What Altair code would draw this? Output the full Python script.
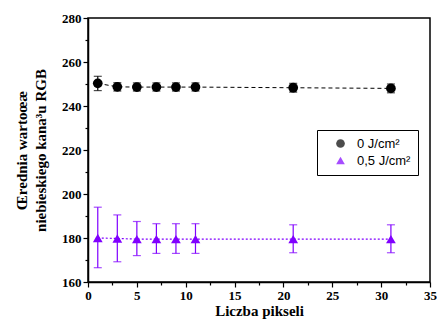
import altair as alt
import pandas as pd

x_vals = [1, 3, 5, 7, 9, 11, 21, 31]
black_y = [250.3, 248.7, 248.6, 248.6, 248.6, 248.6, 248.3, 248.0]
black_lo = [247.0, 246.8, 246.8, 246.8, 246.8, 246.8, 246.3, 246.0]
black_hi = [253.5, 250.6, 250.5, 250.5, 250.5, 250.5, 250.3, 250.0]
purple_y = [180.0, 179.8, 179.5, 179.5, 179.5, 179.5, 179.5, 179.5]
purple_lo = [166.5, 169.2, 172.0, 173.0, 173.0, 173.0, 173.3, 173.3]
purple_hi = [194.0, 190.5, 187.5, 186.5, 186.5, 186.5, 186.0, 186.0]
series = ["0 J/cm²", "0,5 J/cm²"]
colors = ["#000000", "#8000ff"]
shapes = ["circle", "triangle-up"]
x_ticks = [0, 2.5, 5, 7.5, 10, 12.5, 15, 17.5, 20, 22.5, 25, 27.5, 30, 32.5, 35]
y_ticks = [160, 170, 180, 190, 200, 210, 220, 230, 240, 250, 260, 270, 280]

rows = []
for s, c, ys, lo, hi in [(series[0], colors[0], black_y, black_lo, black_hi),
                         (series[1], colors[1], purple_y, purple_lo, purple_hi)]:
    for xv, yv, l, h in zip(x_vals, ys, lo, hi):
        rows.append({"x": xv, "y": yv, "lo": l, "hi": h, "s": s, "col": c})
df = pd.DataFrame(rows)

FONT = "Liberation Serif"
xscale = alt.Scale(domain=[0, 35], nice=False)
yscale = alt.Scale(domain=[160, 280], nice=False, zero=False)

xaxis = alt.Axis(values=x_ticks, title="Liczba pikseli",
                 labelExpr="datum.value % 5 === 0 ? datum.label : ''",
                 tickSize={"condition": {"test": "datum.value % 5 === 0", "value": 5}, "value": 3},
                 titlePadding=1)
yaxis = alt.Axis(values=y_ticks, title=["Œrednia wartoœæ", "niebieskiego kana³u RGB"],
                 labelExpr="datum.value % 20 === 0 ? datum.label : ''",
                 tickSize={"condition": {"test": "datum.value % 20 === 0", "value": 5}, "value": 3},
                 titleLineHeight=19, titlePadding=13)

base = alt.Chart(df)
X = alt.X("x:Q", scale=xscale, axis=xaxis)
Y = alt.Y("y:Q", scale=yscale, axis=yaxis)
C_raw = alt.Color("col:N", scale=None)

line_black = base.transform_filter(alt.datum.s == series[0]).mark_line(
    strokeDash=[4, 3], strokeWidth=1).encode(x=X, y=Y, color=C_raw)
line_purple = base.transform_filter(alt.datum.s == series[1]).mark_line(
    strokeDash=[2, 2], strokeWidth=1.2).encode(x=X, y=Y, color=C_raw)
bars = base.mark_rule(strokeWidth=1.2).encode(
    x=X, y=alt.Y("lo:Q", scale=yscale, axis=yaxis), y2="hi:Q", color=C_raw)
cap_lo = base.mark_tick(orient="horizontal", size=8, thickness=1.2).encode(
    x=X, y=alt.Y("lo:Q", scale=yscale, axis=yaxis), color=C_raw)
cap_hi = base.mark_tick(orient="horizontal", size=8, thickness=1.2).encode(
    x=X, y=alt.Y("hi:Q", scale=yscale, axis=yaxis), color=C_raw)

legend = alt.Legend(title=None, orient="none", legendX=229, legendY=112,
                    strokeColor="black", fillColor="white", padding=7,
                    labelFont="Liberation Sans", labelFontSize=13, labelColor="black",
                    symbolSize=75, rowPadding=3, labelOffset=10, symbolOffset=10,
                    symbolStrokeWidth=0, symbolOpacity=1)
points = base.mark_point(filled=True, size=95, opacity=1).encode(
    x=X, y=Y,
    color=alt.Color("s:N", scale=alt.Scale(domain=series, range=colors), legend=legend),
    shape=alt.Shape("s:N", scale=alt.Scale(domain=series, range=shapes), legend=legend),
)

chart = alt.layer(line_black, line_purple, bars, cap_lo, cap_hi, points).properties(
    width=342, height=264,
    background="white",
    autosize=alt.AutoSizeParams(type="none"),
    padding={"left": 80, "top": 10, "right": 7, "bottom": 38},
).configure_view(stroke="black", strokeWidth=1.5).configure_axis(
    labelFont=FONT, labelFontWeight="bold", labelFontSize=13, labelColor="black",
    titleFont=FONT, titleFontWeight="bold", titleFontSize=15, titleColor="black",
    domainColor="black", tickColor="black", domainWidth=1.5, tickWidth=1.2,
    grid=False, labelPadding=2, labelFlush=False,
)

chart.save("out.html", embed_options={"renderer": "svg", "actions": False})
